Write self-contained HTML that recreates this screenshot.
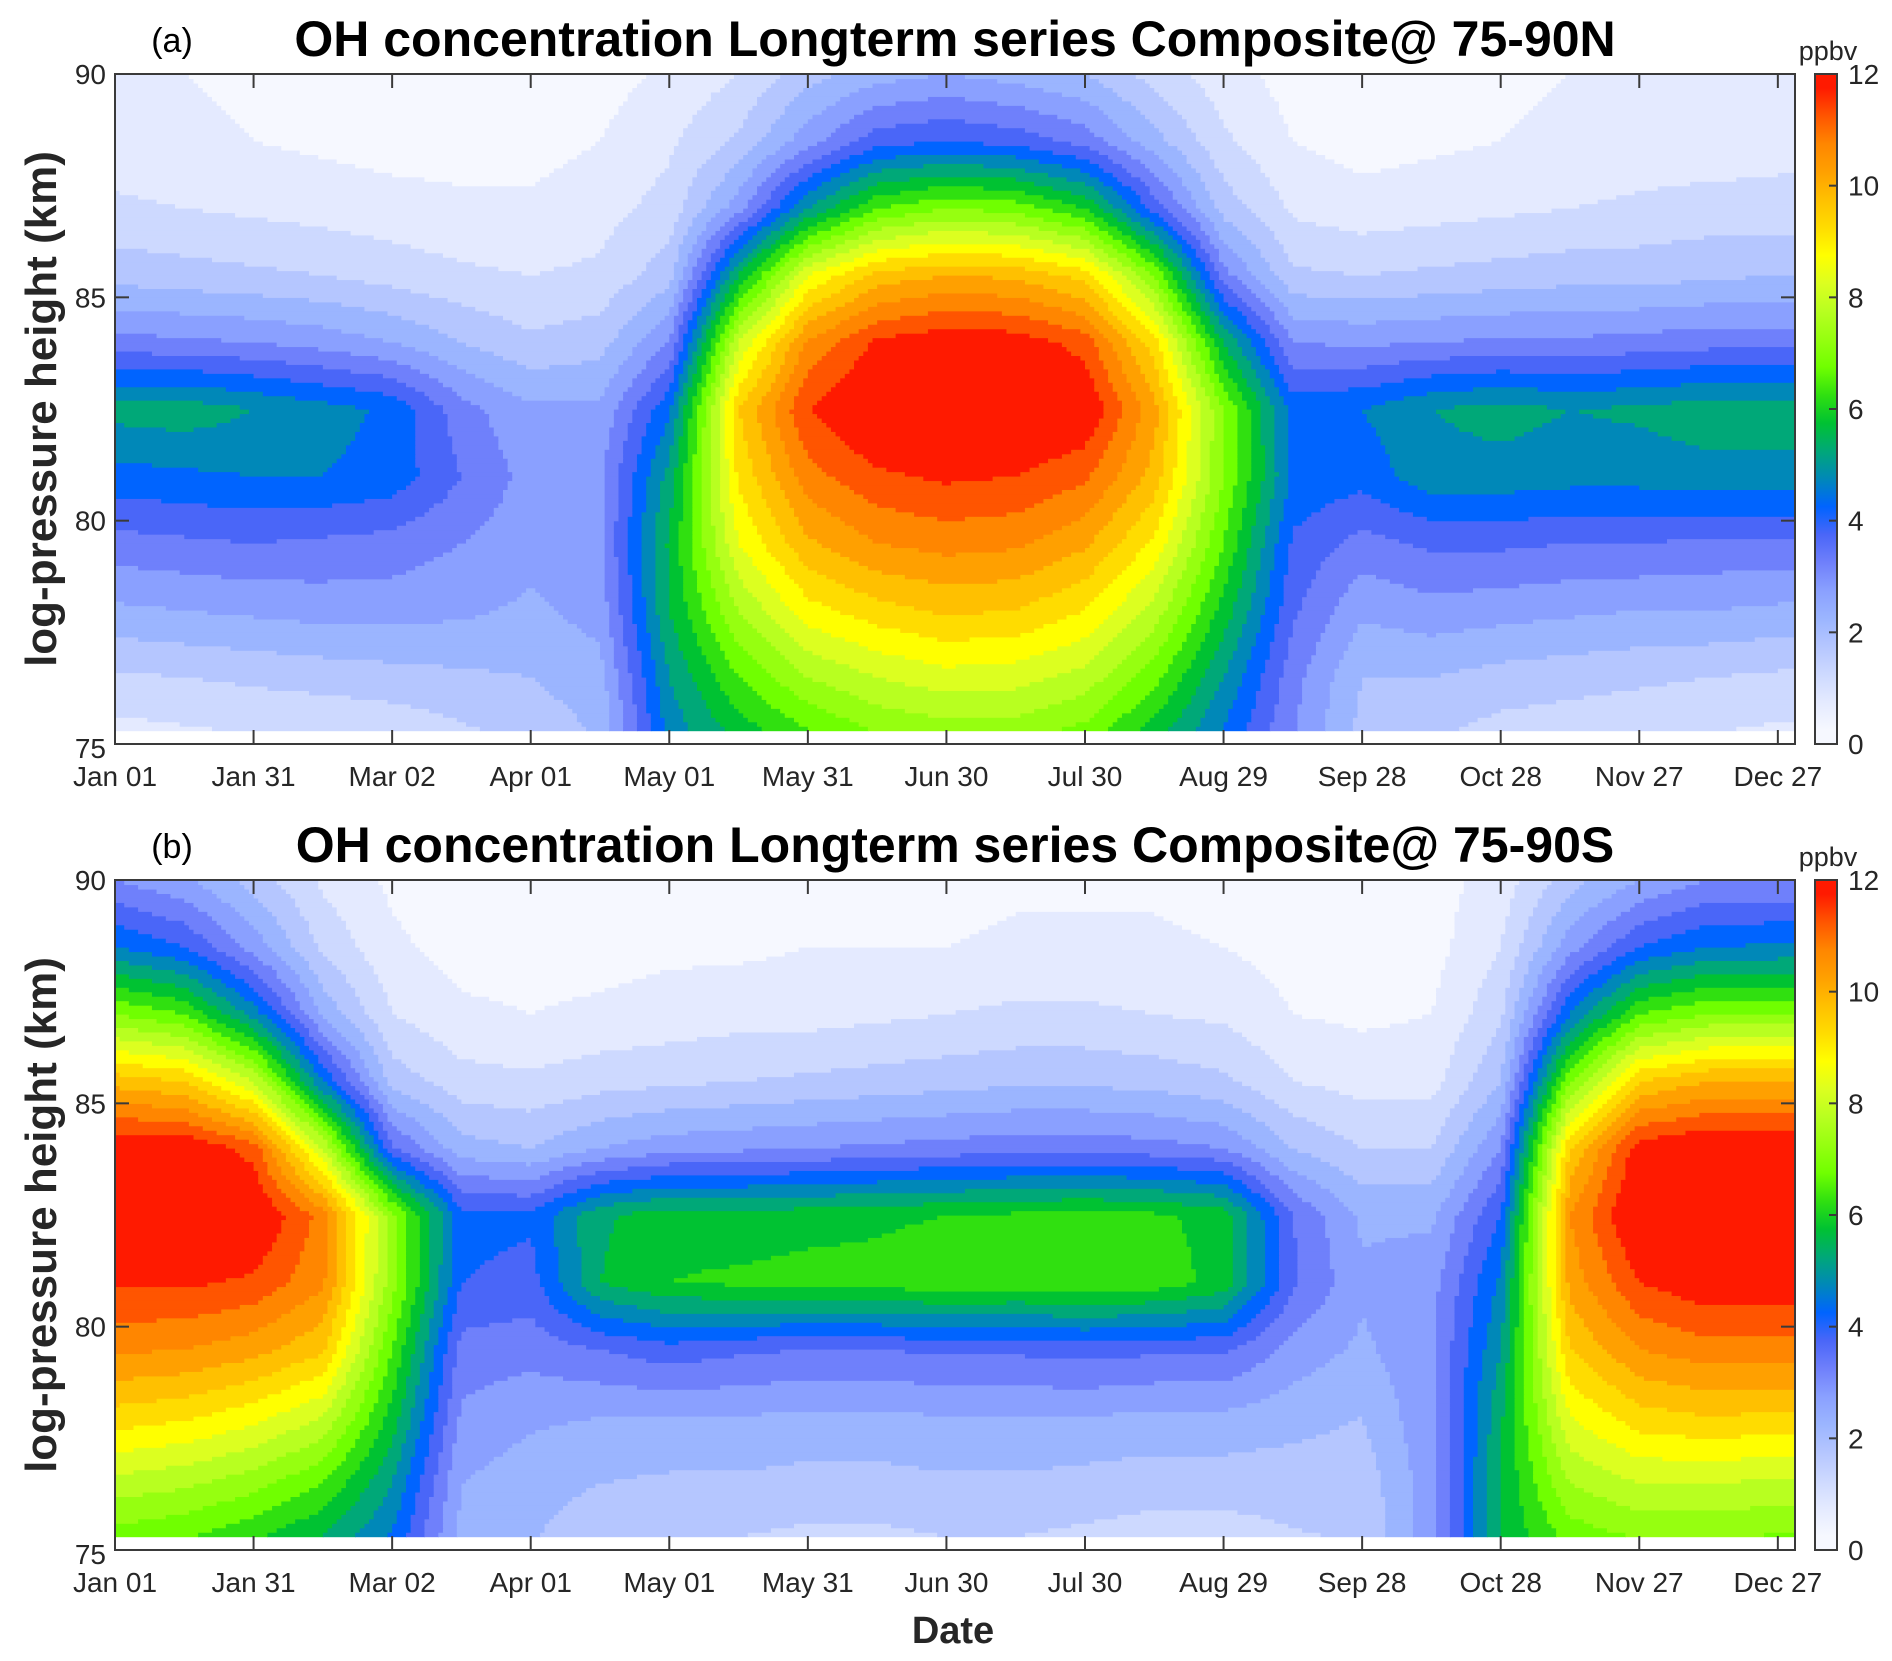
<!DOCTYPE html>
<html><head><meta charset="utf-8"><style>
html,body{margin:0;padding:0;background:#fff;}
svg{display:block;font-family:"Liberation Sans",Arial,sans-serif;}
</style></head><body>
<svg id="fig" width="1892" height="1661" viewBox="0 0 1892 1661" xmlns="http://www.w3.org/2000/svg"></svg>
<script>
// ---- data ----
const heights = [75, 76.5, 78, 79.5, 81, 82.5, 84, 85.5, 87, 88.5, 90];
const days = [0,15,30,45,60,75,90,105,120,135,150,165,180,195,210,225,240,255,270,285,300,315,330,345,360];
const xTickLabels = ["Jan 01","Jan 31","Mar 02","Apr 01","May 01","May 31","Jun 30","Jul 30","Aug 29","Sep 28","Oct 28","Nov 27","Dec 27"];
const xTickDays = [0,30,60,90,120,150,180,210,240,270,300,330,360];
const yTicks = [75, 80, 85, 90];
const cbTicks = [0, 2, 4, 6, 8, 10, 12];
const panelA = [
[0.7,1.4,2.4,3.3,4.3,5.2,3.2,1.8,1.1,0.7,0.5],
[0.8,1.5,2.5,3.4,4.4,5.3,3.1,1.7,1.0,0.6,0.5],
[0.9,1.6,2.6,3.5,4.5,5.0,3.0,1.6,0.9,0.5,0.4],
[0.9,1.7,2.7,3.4,4.5,4.7,2.8,1.5,0.8,0.4,0.3],
[1.0,1.8,2.7,3.3,4.3,4.4,2.5,1.3,0.7,0.3,0.2],
[1.3,1.9,2.6,3.0,3.5,3.2,2.0,1.1,0.6,0.3,0.2],
[1.6,2.0,2.4,2.7,2.8,2.6,1.6,1.0,0.6,0.3,0.2],
[2.0,2.3,2.7,2.9,2.9,2.6,1.8,1.1,0.8,0.5,0.3],
[4.6,5.0,5.5,5.6,5.2,4.4,3.0,1.8,1.2,0.9,0.6],
[5.5,6.5,7.5,8.5,9.1,9.5,8.0,5.5,2.8,1.6,1.0],
[6.2,7.5,8.8,9.9,10.8,11.5,10.6,8.5,5.0,2.8,1.8],
[6.8,8.0,9.3,10.5,11.4,12.2,11.6,9.7,6.5,3.8,2.3],
[7.0,8.3,9.6,10.7,11.6,12.4,11.9,10.0,7.0,4.0,2.5],
[7.0,8.2,9.5,10.6,11.5,12.3,11.8,9.9,6.8,3.8,2.3],
[6.6,7.8,9.0,10.1,11.1,12.0,11.3,9.3,6.0,3.3,2.0],
[5.5,6.7,7.8,8.9,9.8,10.2,9.2,7.0,3.8,2.2,1.3],
[4.3,5.0,5.8,6.5,7.0,7.0,5.5,3.2,1.8,1.1,0.7],
[3.0,3.2,3.6,3.9,4.4,4.3,3.0,1.6,0.9,0.5,0.3],
[1.8,2.0,2.6,3.3,4.2,4.5,2.9,1.5,0.7,0.3,0.2],
[1.5,2.0,2.8,3.6,4.8,5.0,3.0,1.6,0.8,0.4,0.3],
[1.2,1.8,2.7,3.6,4.8,5.2,3.1,1.7,0.9,0.5,0.4],
[1.1,1.7,2.6,3.5,4.7,5.0,3.1,1.8,1.0,0.6,0.5],
[1.0,1.6,2.5,3.5,4.7,5.1,3.2,1.8,1.1,0.7,0.5],
[0.9,1.5,2.5,3.4,4.8,5.3,3.3,1.9,1.2,0.7,0.6],
[0.8,1.4,2.4,3.4,4.8,5.3,3.3,2.0,1.2,0.8,0.6]];
const panelB = [
[6.5,7.8,9.3,10.6,11.6,12.3,12.0,9.8,7.0,4.5,3.0],
[6.3,7.6,9.1,10.5,11.6,12.3,12.0,9.5,6.5,4.0,2.6],
[5.8,7.2,8.7,10.2,11.4,12.1,11.3,8.0,4.8,2.8,1.8],
[5.2,6.5,8.0,9.6,10.6,10.8,8.0,4.5,2.4,1.4,0.9],
[4.3,5.0,5.8,6.5,7.2,7.2,3.6,1.8,1.0,0.6,0.4],
[2.3,2.5,2.9,3.3,4.0,4.2,2.2,1.2,0.6,0.3,0.2],
[2.0,2.2,2.6,3.2,3.8,4.1,2.0,1.1,0.5,0.3,0.2],
[1.6,2.0,2.5,3.5,5.5,5.4,2.5,1.3,0.6,0.3,0.3],
[1.5,1.9,2.5,3.8,6.0,5.8,2.8,1.4,0.7,0.4,0.3],
[1.4,1.9,2.5,3.6,6.1,5.7,2.9,1.5,0.8,0.4,0.3],
[1.3,1.8,2.4,3.5,6.2,5.8,3.0,1.6,0.8,0.5,0.3],
[1.3,1.8,2.4,3.5,6.2,5.9,3.1,1.7,0.9,0.5,0.3],
[1.4,1.9,2.5,3.6,6.4,6.0,3.2,1.8,1.0,0.5,0.3],
[1.4,1.9,2.5,3.6,6.3,6.1,3.3,1.9,1.1,0.6,0.4],
[1.3,1.8,2.5,3.7,6.4,6.2,3.3,1.9,1.1,0.6,0.4],
[1.2,1.7,2.4,3.6,6.3,6.1,3.2,1.8,1.0,0.6,0.4],
[1.2,1.7,2.4,3.6,5.8,5.8,3.0,1.6,0.9,0.5,0.3],
[1.4,1.7,2.2,2.8,3.6,3.5,2.0,1.0,0.5,0.3,0.2],
[1.5,1.7,2.0,2.4,2.6,2.4,1.5,0.8,0.4,0.2,0.2],
[2.8,2.8,2.9,2.9,2.8,2.4,1.5,0.8,0.5,0.3,0.3],
[5.5,5.5,5.4,5.0,4.6,4.0,3.0,2.0,1.4,1.0,0.7],
[6.5,7.5,8.5,9.5,10.2,10.5,9.5,7.0,4.5,2.8,1.8],
[6.8,8.0,9.3,10.5,11.5,12.2,11.8,9.5,6.5,4.0,2.5],
[6.8,8.0,9.5,10.8,11.9,12.4,12.1,10.0,7.0,4.5,3.0],
[6.7,7.9,9.4,10.8,11.9,12.4,12.1,10.0,7.0,4.6,3.0]];
const bandColors = ["#f6f8ff","#e4eaff","#cdd9ff","#b5c6ff","#9bb5ff","#8aa0ff","#6f80fb","#4a66f8","#0064ff","#0088b8","#00a878","#00c232","#30e010","#70ff00","#96ff10","#b8ff20","#dcff20","#ffff00","#ffdc00","#ffc000","#ffa000","#ff8600","#ff5500","#ff1a00"];

// ---- layout ----
const NS = "http://www.w3.org/2000/svg";
const svg = document.getElementById("fig");
const X0 = 115, X1 = 1795, PXDAY = 4.619, DMAX = (X1 - X0) / PXDAY;
function mk(tag, attrs, parent) {
  const e = document.createElementNS(NS, tag);
  for (const k in attrs) e.setAttribute(k, attrs[k]);
  (parent || svg).appendChild(e);
  return e;
}
function xScale(d) { return X0 + d * PXDAY; }

function sample(grid, d, h) {
  let i = 0; while (i < days.length - 2 && d > days[i + 1]) i++;
  let ti = Math.min(1, Math.max(0, (d - days[i]) / (days[i + 1] - days[i])));
  let j = 0; while (j < heights.length - 2 && h > heights[j + 1]) j++;
  let tj = Math.min(1, Math.max(0, (h - heights[j]) / (heights[j + 1] - heights[j])));
  const a = grid[i][j] * (1 - tj) + grid[i][j + 1] * tj;
  const b = grid[i + 1][j] * (1 - tj) + grid[i + 1][j + 1] * tj;
  return a * (1 - ti) + b * ti;
}

function panel(grid, Y0, letter, title, name) {
  const g = mk("g", {});
  
  
  const Y1 = Y0 + 670;
  const yScale = h => Y1 - (h - 75) * (Y1 - Y0) / 15;
  const dd = 1, dh = 0.1, hStart = 75.3;
  for (let h = hStart; h < 90 - 1e-6; h += dh) {
    const yTop = yScale(Math.min(90, h + dh)), yBot = yScale(h);
    let runStart = 0, runLev = -1;
    const nC = Math.ceil(DMAX / dd);
    for (let c = 0; c <= nC; c++) {
      let lev = -2;
      if (c < nC) {
        const v = sample(grid, c * dd + dd / 2, h + dh / 2);
        lev = Math.max(0, Math.min(23, Math.floor(v / 0.5)));
      }
      if (lev !== runLev) {
        if (runLev >= 0) {
          const xa = xScale(runStart * dd), xb = Math.min(X1, xScale(c * dd));
          const r = mk("rect", {x: xa.toFixed(2), y: yTop.toFixed(2), width: (xb - xa + 0.6).toFixed(2), height: (yBot - yTop + 0.6).toFixed(2), fill: bandColors[runLev]}, g);
          
          
        }
        runStart = c; runLev = lev;
      }
    }
  }
  const fr = mk("rect", {x: X0, y: Y0, width: X1 - X0, height: Y1 - Y0, fill: "none", stroke: "#3a3a3a", "stroke-width": 2});
  
  
  xTickDays.forEach((d, k) => {
    const x = xScale(d);
    mk("line", {x1: x, y1: Y1, x2: x, y2: Y1 - 14, stroke: "#3a3a3a", "stroke-width": 2});
    mk("line", {x1: x, y1: Y0, x2: x, y2: Y0 + 14, stroke: "#3a3a3a", "stroke-width": 2});
    const t = mk("text", {x: x, y: Y1 + 42, "font-size": 28, "text-anchor": "middle", fill: "#262626"});
    t.textContent = xTickLabels[k];
    
    
  });
  yTicks.forEach(h => {
    const y = yScale(h);
    mk("line", {x1: X0, y1: y, x2: X0 + 14, y2: y, stroke: "#3a3a3a", "stroke-width": 2});
    mk("line", {x1: X1, y1: y, x2: X1 - 14, y2: y, stroke: "#3a3a3a", "stroke-width": 2});
    const t = mk("text", {x: 106, y: y + 10 + (h === 75 ? 4 : 0), "font-size": 28, "text-anchor": "end", fill: "#262626"});
    t.textContent = h;
    
    
  });
  const yl = mk("text", {x: 0, y: 0, transform: `translate(56,${(Y0 + Y1) / 2}) rotate(-90)`, "font-size": 44, "font-weight": "bold", "text-anchor": "middle", fill: "#262626"});
  yl.textContent = "log-pressure height (km)";
  
  
  const pl = mk("text", {x: 172, y: Y0 - 22, "font-size": 34, "text-anchor": "middle", fill: "#000"});
  pl.textContent = letter;
  
  
  const tt = mk("text", {x: 955, y: Y0 - 18, "font-size": 50, "font-weight": "bold", "text-anchor": "middle", fill: "#000"});
  tt.textContent = title;
  
  
  const cb = mk("rect", {x: 1815, y: Y0, width: 22, height: Y1 - Y0, fill: "url(#cbgrad)", stroke: "#3a3a3a", "stroke-width": 2});
  
  
  cbTicks.forEach(v => {
    const y = Y1 - v / 12 * (Y1 - Y0);
    mk("line", {x1: 1837, y1: y, x2: 1829, y2: y, stroke: "#3a3a3a", "stroke-width": 2});
    const t = mk("text", {x: 1848, y: y + 10, "font-size": 28, fill: "#262626"});
    t.textContent = v;
    
    
  });
  const u = mk("text", {x: 1828, y: Y0 - 14, "font-size": 27, "text-anchor": "middle", fill: "#262626"});
  u.textContent = "ppbv";
  
  
}

const defs = mk("defs", {});
const grad = mk("linearGradient", {id: "cbgrad", x1: 0, y1: 1, x2: 0, y2: 0}, defs);
bandColors.forEach((c, i) => mk("stop", {offset: ((i + 0.5) / bandColors.length).toFixed(4), "stop-color": c}, grad));

panel(panelA, 74, "(a)", "OH concentration Longterm series Composite@ 75-90N", "panel-a-north");
panel(panelB, 880, "(b)", "OH concentration Longterm series Composite@ 75-90S", "panel-b-south");
const xl = mk("text", {x: 953, y: 1643, "font-size": 38, "font-weight": "bold", "text-anchor": "middle", fill: "#262626"});
xl.textContent = "Date";


</script>
</body></html>
